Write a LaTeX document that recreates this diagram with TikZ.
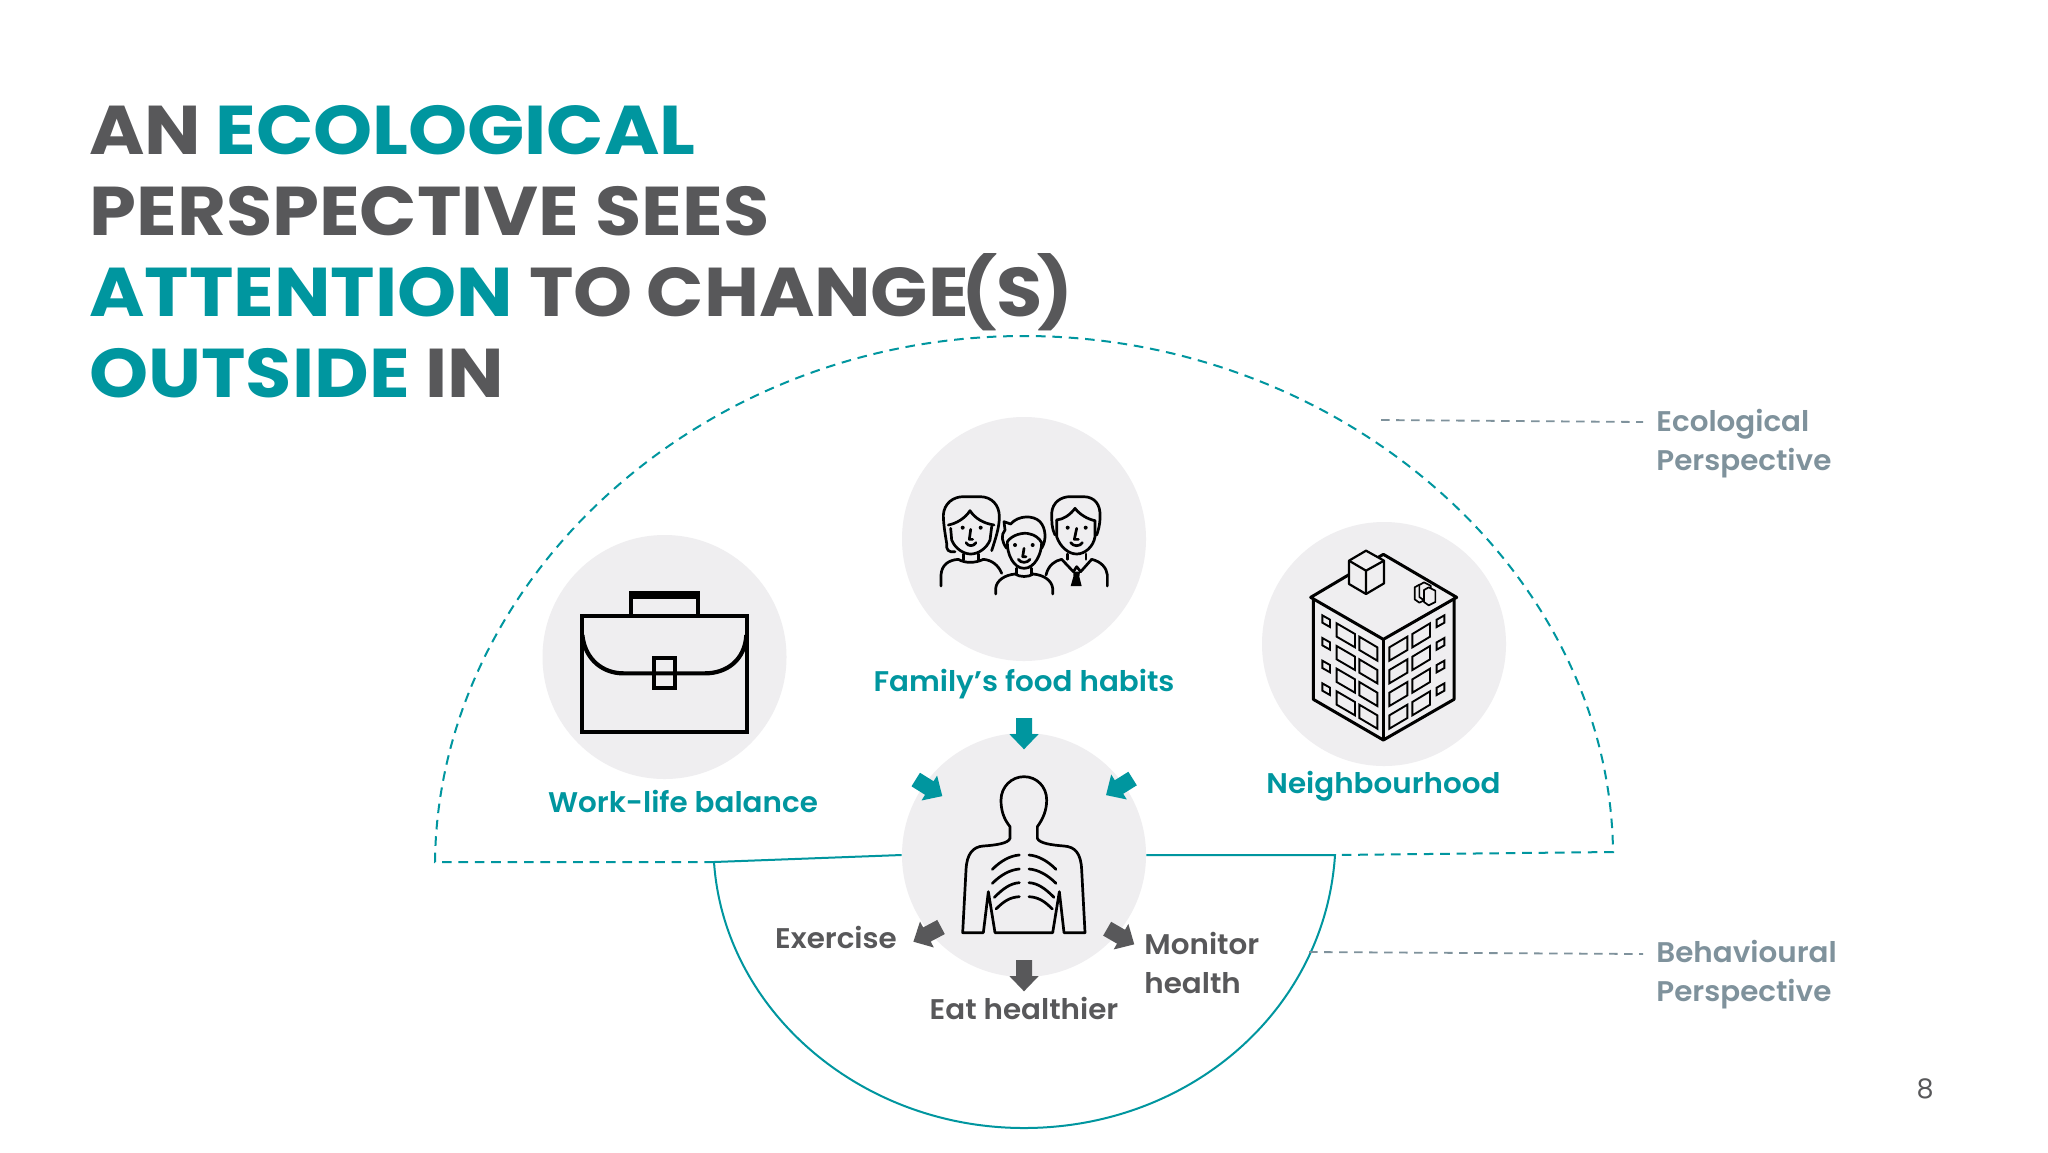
\documentclass[tikz,border=0pt]{standalone}
\usepackage{fontspec}
\setmainfont{Poppins}
\newfontfamily\titlefont[FakeStretch=1.09]{Poppins Bold}
\newfontfamily\labelfont[FakeStretch=1.035]{Poppins SemiBold}
\definecolor{ecoteal}{HTML}{00969F}
\definecolor{darkgrey}{HTML}{58585A}
\definecolor{sidegrey}{HTML}{7F929C}
\definecolor{disc}{HTML}{EFEEF0}
\tikzset{pics/blockarrow/.style={code={
  \fill[#1] (-8,-16) -- (8,-16) -- (8,0) -- (14.7,0) -- (0,15.3) -- (-14.7,0) -- (-8,0) -- cycle;}}}
\begin{document}
\begin{tikzpicture}[x=0.5pt, y=-0.5pt,
    zoomed/.style={x=0.16667pt, y=-0.16667pt},
    icon/.style={black, line width=1.35pt, line join=round, line cap=round},
    bubble/.style={circle, fill=disc, inner sep=0pt, minimum size=122pt},
    tealtext/.style={text=ecoteal, inner sep=0pt, font=\labelfont\fontsize{14.2}{19.5}\selectfont},
    greytext/.style={text=darkgrey, inner sep=0pt, font=\labelfont\fontsize{14.2}{19.5}\selectfont},
    sidetext/.style={text=sidegrey, inner sep=0pt, align=left, anchor=base west, font=\labelfont\fontsize{14.2}{19.5}\selectfont},
    leader/.style={sidegrey, line width=0.9pt, dash pattern=on 4.3pt off 3.2pt}]
  \useasboundingbox (0,0) rectangle (2048,1152);
  \fill[white] (0,0) rectangle (2048,1152);

  \node[anchor=base west, inner sep=0pt, align=left, text=darkgrey, font=\titlefont\fontsize{34.5}{40.5}\selectfont] (Title) at (89,397)
    {AN\kern-1pt{} \textcolor{ecoteal}{ECOLOGICAL}\\PERSPECTIVE SEES\\\textcolor{ecoteal}{ATTENTION} TO\kern-1pt{} CHANGE\kern-4pt(S\kern-3pt)\\\textcolor{ecoteal}{OUTSIDE} IN};

  \coordinate (EcoLeft) at (435,862);
  \coordinate (EcoTop) at (1024,336);
  \coordinate (EcoRight) at (1613,852);
  \coordinate (BehLeft) at (714,862);
  \coordinate (BehRight) at (1335,855);
  \coordinate (BehBottom) at (1024,1128);

  \draw[ecoteal, line width=1pt, dash pattern=on 4.8pt off 3.4pt] (BehLeft) -- (EcoLeft) .. controls (438,580) and (700,336) .. (EcoTop) .. controls (1340,336) and (1610,570) .. (EcoRight) -- (BehRight);

  \node[bubble] (Family) at (1024,539) {};
  \node[bubble] (Work) at (664.5,657) {};
  \node[bubble] (Building) at (1384,644) {};
  \node[bubble] (Body) at (1024,855) {};

  \draw[ecoteal, line width=1pt] (Body.west) -- (BehLeft) .. controls (724,1010) and (860,1128) .. (BehBottom) .. controls (1190,1128) and (1325,1010) .. (BehRight) -- (Body.east);

  \coordinate (EcoFrom) at (1381,420);
  \coordinate (EcoTo) at (1643,422);
  \coordinate (BehFrom) at (1309,952);
  \coordinate (BehTo) at (1643,954);
  \draw[leader] (EcoFrom) -- (EcoTo);
  \draw[leader] (BehFrom) -- (BehTo);

  \node[tealtext, anchor=base] (FamilyLabel) at (1024,691) {Family’s food habits};
  \node[tealtext, anchor=base] (WorkLabel) at (683,812) {Work-life balance};
  \node[tealtext, anchor=base] (BuildingLabel) at (1383.5,793) {Neighbourhood};
  \node[greytext, anchor=base] (ExerciseLabel) at (836,948) {Exercise};
  \node[greytext, anchor=base] (EatLabel) at (1024,1019) {Eat healthier};
  \node[greytext, anchor=base west, align=left] (MonitorLabel) at (1144,993) {Monitor\\health};
  \node[sidetext] (EcoLabel) at (1656,470) {Ecological\\Perspective};
  \node[sidetext] (BehLabel) at (1656,1001) {Behavioural\\Perspective};
  \node[text=darkgrey, inner sep=0pt, anchor=base, font=\fontsize{13.5}{16}\selectfont] (PageNumber) at (1925,1098) {8};

  \pic at (1024,734) {blockarrow=ecoteal};
  \pic[rotate=58] at (929.3,788) {blockarrow=ecoteal};
  \pic[rotate=-58] at (1119,787) {blockarrow=ecoteal};
  \pic at (1024,976) {blockarrow=darkgrey};
  \pic[rotate=-62] at (926.9,934.5) {blockarrow=darkgrey};
  \pic[rotate=60] at (1121,936.7) {blockarrow=darkgrey};

  \begin{scope}[shift={(880,710)}, zoomed]
    \draw[icon] (248,668) -- (258,480) .. controls (260,430) and (280,410) .. (310,408) .. controls (350,405) and (385,400) .. (390,385) -- (390,350) .. controls (370,325) and (363,300) .. (363,270) .. controls (363,230) and (395,200) .. (432,200) .. controls (470,200) and (500,230) .. (500,270) .. controls (500,300) and (490,325) .. (472,350) -- (472,385) .. controls (478,400) and (515,405) .. (552,408) .. controls (585,410) and (603,430) .. (605,480) -- (615,668) -- (552,668) -- (538,545) -- (518,668) -- (345,668) -- (325,545) -- (310,668) -- cycle;
    \foreach \xa/\ya/\yb in {337/478/435, 337/520/477, 343/562/518, 348/597/560} {
      \draw[icon] (\xa,\ya) .. controls ({\xa+25},{\ya-25}) and (390,{\yb+2}) .. (418,\yb);
      \draw[icon] ({865-\xa},\ya) .. controls ({840-\xa},{\ya-25}) and (475,{\yb+2}) .. (447,\yb);
    }
  \end{scope}

  \begin{scope}[shift={(520,520)}, zoomed]
    \draw[black, line width=2.1pt, miter limit=10] (185,287) rectangle (681,635);
    \draw[black, line width=2.1pt] (333,287) -- (333,225) -- (533,225) -- (533,287);
    \fill[black] (326,213) rectangle (540,238);
    \draw[black, line width=2.1pt] (187,345) .. controls (195,420) and (250,460) .. (310,460) -- (555,460) .. controls (620,460) and (675,420) .. (679,345);
    \draw[black, line width=2.1pt] (403,414) rectangle (464,504);
  \end{scope}

  \begin{scope}[shift={(1250,510)}, zoomed]
    \draw[black, line width=1.5pt, line join=round] (190,270) -- (190,568) -- (400,690) -- (612,568) -- (612,270);
    \draw[black, line width=1.5pt] (400,388) -- (400,690);
    \draw[black, line width=1.5pt, line join=round] (182,262) -- (400,133) -- (620,262) -- (400,388) -- cycle;
    \foreach \r in {0,68,136,204} {
      \draw[black, line width=0.95pt] (217,{316+\r}) -- (240,{329+\r}) -- (240,{351+\r}) -- (217,{338+\r}) -- cycle;
      \draw[black, line width=0.95pt] (260,{340+\r}) -- (315,{372+\r}) -- (315,{412+\r}) -- (260,{380+\r}) -- cycle;
      \draw[black, line width=0.95pt] (328,{380+\r}) -- (382,{412+\r}) -- (382,{452+\r}) -- (328,{420+\r}) -- cycle;
      \draw[black, line width=0.95pt] (583,{316+\r}) -- (560,{329+\r}) -- (560,{351+\r}) -- (583,{338+\r}) -- cycle;
      \draw[black, line width=0.95pt] (540,{340+\r}) -- (487,{372+\r}) -- (487,{412+\r}) -- (540,{380+\r}) -- cycle;
      \draw[black, line width=0.95pt] (472,{380+\r}) -- (418,{412+\r}) -- (418,{452+\r}) -- (472,{420+\r}) -- cycle;
    }
    \draw[black, fill=disc, line width=1.1pt, line join=round] (348,122) -- (402,152) -- (402,220) -- (348,252) -- (297,222) -- (297,152) -- cycle;
    \draw[black, line width=1.1pt] (297,152) -- (348,182) -- (402,152) (348,182) -- (348,252);
    \foreach \x/\y in {494/232, 508/225, 522/240} {
      \draw[black, fill=disc, line width=0.85pt, line join=round] (\x,\y) -- ({\x+14},{\y-8}) -- ({\x+34},{\y+2}) -- ({\x+34},{\y+36}) -- ({\x+14},{\y+46}) -- (\x,{\y+36}) -- cycle;
    }
  \end{scope}

  \begin{scope}[shift={(880,400)}, zoomed]
    \draw[icon] (225,455) .. controls (205,458) and (198,450) .. (200,430) .. controls (195,400) and (190,370) .. (190,345) .. controls (192,310) and (220,290) .. (250,290) -- (300,290) .. controls (335,290) and (358,315) .. (358,350) .. controls (358,385) and (345,420) .. (335,452);
    \draw[icon] (205,375) .. controls (230,370) and (255,355) .. (270,332) .. controls (285,355) and (310,370) .. (342,375);
    \draw[icon] (212,385) -- (215,420) .. controls (225,445) and (250,462) .. (272,462) .. controls (295,462) and (320,445) .. (330,420) -- (335,380);
    \fill (248,383) circle (6) (302,383) circle (6);
    \draw[icon] (272,388) -- (268,418) -- (278,418);
    \draw[icon] (258,428) .. controls (265,440) and (280,440) .. (288,428);
    \draw[icon] (250,462) -- (250,480) (295,462) -- (295,480);
    \draw[icon] (183,558) -- (183,525) .. controls (185,495) and (205,480) .. (235,478) .. controls (255,490) and (285,490) .. (310,478) .. controls (335,480) and (355,495) .. (365,520);

    \draw[icon] (380,445) .. controls (365,425) and (362,405) .. (375,390) -- (372,365) -- (392,372) .. controls (415,345) and (460,345) .. (480,365) .. controls (498,385) and (500,420) .. (485,445);
    \draw[icon] (382,425) .. controls (395,405) and (430,395) .. (450,402) .. controls (465,405) and (478,415) .. (485,428);
    \draw[icon] (382,425) .. controls (380,460) and (400,505) .. (432,505) .. controls (465,505) and (485,460) .. (485,428);
    \fill (405,435) circle (6) (458,435) circle (6);
    \draw[icon] (432,445) -- (428,470) -- (438,470);
    \draw[icon] (415,478) .. controls (422,490) and (442,490) .. (450,478);
    \draw[icon] (410,505) -- (410,522) (455,505) -- (455,522);
    \draw[icon] (347,582) -- (347,565) .. controls (350,540) and (375,525) .. (405,522) .. controls (420,532) and (445,532) .. (460,522) .. controls (490,525) and (515,540) .. (518,565) -- (518,582);

    \draw[icon] (525,405) .. controls (515,385) and (515,365) .. (515,340) .. controls (517,305) and (545,290) .. (570,290) -- (610,290) .. controls (645,290) and (662,315) .. (660,350) .. controls (660,375) and (655,390) .. (650,405);
    \draw[icon] (530,360) .. controls (550,358) and (570,345) .. (585,325) .. controls (600,345) and (625,358) .. (645,362);
    \draw[icon] (530,360) -- (530,410) .. controls (540,440) and (565,462) .. (590,462) .. controls (615,462) and (640,440) .. (645,410) -- (645,362);
    \fill (563,383) circle (6) (617,383) circle (6);
    \draw[icon] (590,385) -- (583,418) -- (595,418);
    \draw[icon] (572,428) .. controls (580,440) and (600,440) .. (607,428);
    \draw[icon] (562,462) -- (562,478) (618,462) -- (618,478);
    \draw[icon] (545,478) -- (580,515) -- (590,500) -- (602,515) -- (635,478);
    \fill (580,515) -- (600,515) -- (598,530) -- (605,558) -- (572,558) -- (580,530) -- cycle;
    \draw[icon] (498,525) .. controls (505,495) and (525,482) .. (545,478);
    \draw[icon] (635,478) .. controls (665,485) and (680,505) .. (682,525) -- (682,558);
  \end{scope}
\end{tikzpicture}
\end{document}
